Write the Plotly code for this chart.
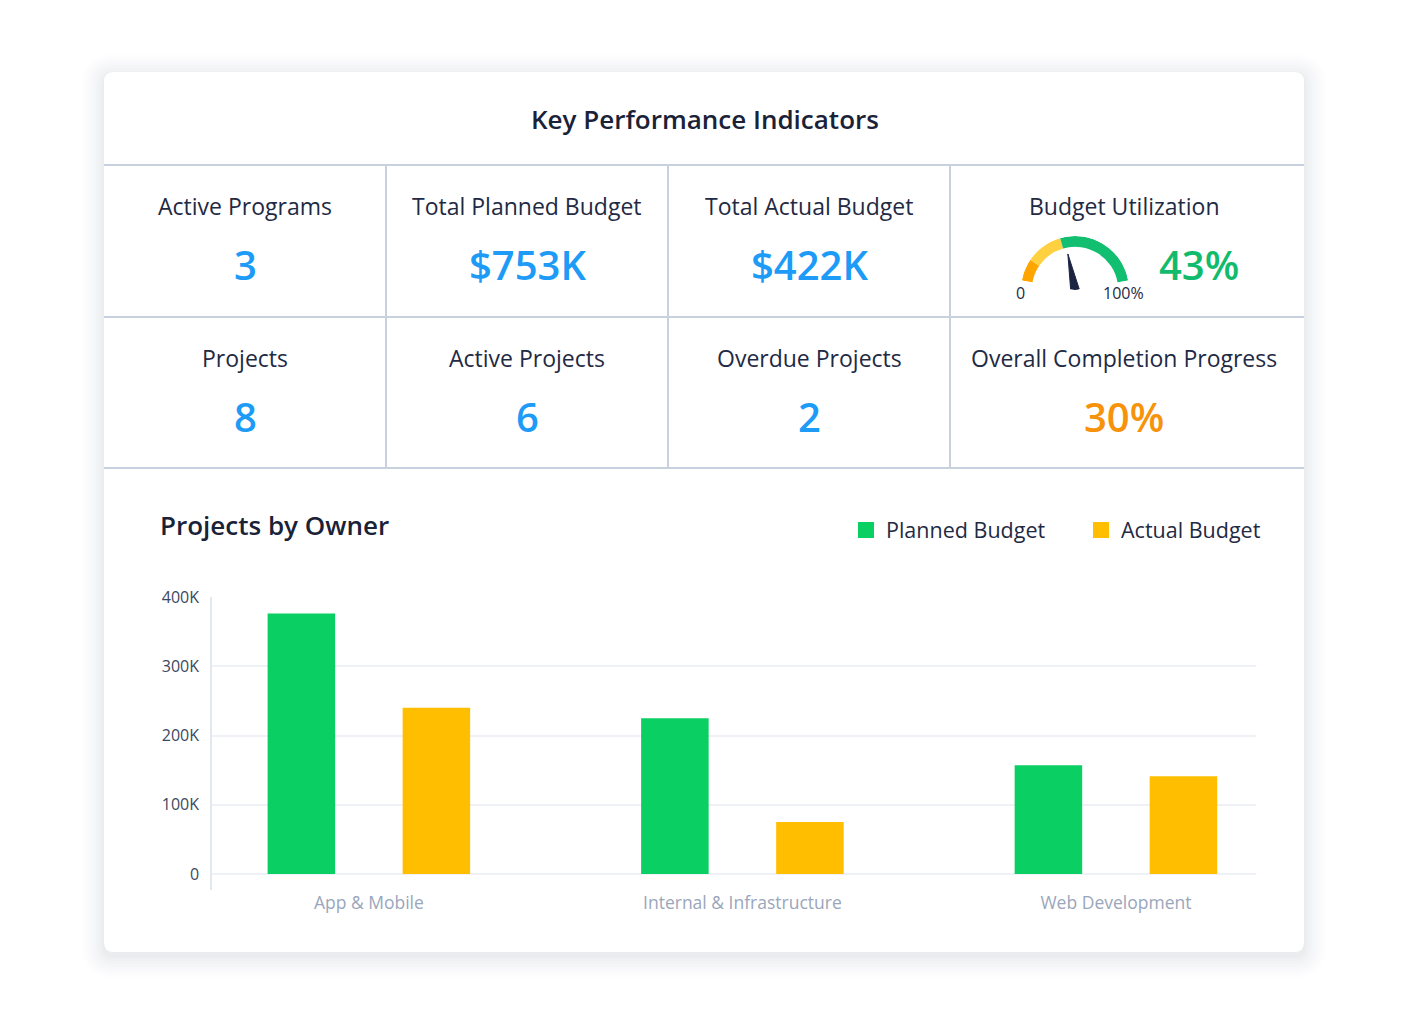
import plotly.graph_objects as go

# --- data ---
owners = ['App & Mobile', 'Internal & Infrastructure', 'Web Development']
planned_budget = [376000, 225000, 157000]
actual_budget = [240000, 75000, 141000]

y_ticks = [0, 100000, 200000, 300000, 400000]
y_tick_labels = ['0', '100K', '200K', '300K', '400K']

kpi_labels = ['Active Programs', 'Total Planned Budget', 'Total Actual Budget', 'Budget Utilization',
              'Projects', 'Active Projects', 'Overdue Projects', 'Overall Completion Progress']
kpi_values = ['3', '$753K', '$422K', '43%', '8', '6', '2', '30%']
kpi_colors = ['#1d9bf6', '#1d9bf6', '#1d9bf6', '#12bb6c', '#1d9bf6', '#1d9bf6', '#1d9bf6', '#f7920b']

# gauge bands (percent) and needle value
gauge_bands = [(0, 15, '#ffa500'), (15, 40, '#ffd040'), (40, 100, '#12bf70')]
utilization = 43

# page is 1408x1024, the body keeps an 8px margin around the figure
OFF = 8
W, H = 1408 - 2 * OFF, 1024 - 2 * OFF
FONT = 'Open Sans'
DARK = '#1f2a44'
LINE = '#c8d1de'
GREEN = '#0acf63'
YELLOW = '#ffbf00'


def fx(x):
    return (x - OFF) / W


def fy(y):
    return 1 - (y - OFF) / H


def rounded_rect(x0, y0, x1, y1, r):
    return (f'M {fx(x0 + r)} {fy(y0)} L {fx(x1 - r)} {fy(y0)} '
            f'Q {fx(x1)} {fy(y0)} {fx(x1)} {fy(y0 + r)} L {fx(x1)} {fy(y1 - r)} '
            f'Q {fx(x1)} {fy(y1)} {fx(x1 - r)} {fy(y1)} L {fx(x0 + r)} {fy(y1)} '
            f'Q {fx(x0)} {fy(y1)} {fx(x0)} {fy(y1 - r)} L {fx(x0)} {fy(y0 + r)} '
            f'Q {fx(x0)} {fy(y0)} {fx(x0 + r)} {fy(y0)} Z')


fig = go.Figure()

# bar chart
fig.add_trace(go.Bar(x=owners, y=planned_budget, name='Planned Budget', marker_color=GREEN,
                     marker_line_width=0, legendgroup='p', showlegend=False))
fig.add_trace(go.Bar(x=owners, y=actual_budget, name='Actual Budget', marker_color=YELLOW,
                     marker_line_width=0, legendgroup='a', showlegend=False))
# legend entries with larger square swatches
fig.add_trace(go.Scatter(x=[None], y=[None], mode='markers', name='Planned Budget', legendgroup='p',
                         marker=dict(symbol='square', size=19, color=GREEN)))
fig.add_trace(go.Scatter(x=[None], y=[None], mode='markers', name='Actual Budget', legendgroup='a',
                         marker=dict(symbol='square', size=19, color=YELLOW)))

# gauge on a polar subplot: angle measured from the left end, clockwise
G_START, G_SWEEP = 10, 160


def pct_to_theta(p):
    return G_START + p / 100 * G_SWEEP


for lo, hi, col in gauge_bands:
    fig.add_trace(go.Barpolar(r=[0.2], base=[0.8], theta=[pct_to_theta((lo + hi) / 2)],
                              width=[(hi - lo) / 100 * G_SWEEP], marker_color=col,
                              marker_line_width=0, showlegend=False, subplot='polar'))

needle = pct_to_theta(utilization)
fig.add_trace(go.Scatterpolar(r=[0.08, 0.68, 0.08, 0.08], theta=[needle - 90, needle, needle + 90, needle - 90],
                              mode='lines', fill='toself', fillcolor='#1b2440', line=dict(color='#1b2440', width=1),
                              cliponaxis=False, showlegend=False, subplot='polar'))
fig.add_trace(go.Scatterpolar(r=[0], theta=[0], mode='markers', marker=dict(size=9, color='#1b2440'),
                              cliponaxis=False, showlegend=False, subplot='polar'))

shapes = []
# card shadow
for i, op in enumerate([0.018, 0.016, 0.014, 0.012, 0.01, 0.008, 0.006, 0.004]):
    d = 2 + i * 3
    shapes.append(dict(type='path', xref='paper', yref='paper', layer='below',
                       path=rounded_rect(104 - d, 72 - d + 4, 1304 + d, 952 + d + 4, 10 + d),
                       fillcolor=f'rgba(40,50,80,{op})', line_width=0))
shapes.append(dict(type='path', xref='paper', yref='paper', layer='below',
                   path=rounded_rect(104, 72, 1304, 952, 10), fillcolor='white', line_width=0))

# KPI grid lines
for yy in [165, 317, 468]:
    shapes.append(dict(type='line', xref='paper', yref='paper', x0=fx(104), x1=fx(1304), y0=fy(yy), y1=fy(yy),
                       line=dict(color=LINE, width=2)))
for xx in [386, 668, 950]:
    shapes.append(dict(type='line', xref='paper', yref='paper', x0=fx(xx), x1=fx(xx), y0=fy(165), y1=fy(468),
                       line=dict(color=LINE, width=2)))


def note(text, x, y, size, color, weight=400, xanchor='center'):
    return dict(text=text, x=fx(x), y=fy(y), xref='paper', yref='paper', xanchor=xanchor, yanchor='middle',
                showarrow=False, font=dict(family=FONT, size=size, color=color, weight=weight))


annotations = [note('Key Performance Indicators', 705, 119, 26, '#1a2238', 600),
               note('Projects by Owner', 158, 525, 26, '#1a2238', 600, 'left')]

col_edges = [104, 386, 668, 950, 1304]
row_tops = [165, 317]
for i, (lab, val, col) in enumerate(zip(kpi_labels, kpi_values, kpi_colors)):
    r, c = divmod(i, 4)
    cx = (col_edges[c] + col_edges[c + 1]) / 2
    if c == 3:
        cx -= 3
    annotations.append(note(lab, cx, row_tops[r] + 41, 23, DARK))
    vx = 1199 if lab == 'Budget Utilization' else cx
    annotations.append(note(val, vx, row_tops[r] + 99, 40, col, 600))

annotations += [note('0', 1020, 293, 16, DARK), note('100%', 1123, 293, 16, DARK)]

fig.update_layout(
    width=W, height=H, margin=dict(l=0, r=0, t=0, b=0, autoexpand=False),
    paper_bgcolor='white', plot_bgcolor='rgba(0,0,0,0)',
    font=dict(family=FONT),
    barmode='group', bargap=0.277, bargroupgap=0.5,
    xaxis=dict(domain=[fx(212), fx(1256)], range=[-0.42, 2.375], showline=False, showgrid=False,
               ticks='', tickfont=dict(size=17.5, color='#9aa6bb'), automargin=False),
    yaxis=dict(domain=[fy(890), fy(597)], range=[-23100, 400000], tickvals=y_ticks, ticktext=y_tick_labels,
               showline=True, linecolor='#e3e8ef', linewidth=1.5, gridcolor='#eef1f6', gridwidth=1.5,
               zeroline=True, zerolinecolor='#eef1f6', zerolinewidth=1.5, ticklabelstandoff=8,
               tickfont=dict(size=16, color='#3b4862'), automargin=False),
    legend=dict(orientation='h', x=fx(846), xanchor='left', y=fy(530), yanchor='middle',
                font=dict(size=21.5, color=DARK), bgcolor='rgba(0,0,0,0)', itemwidth=30,
                entrywidth=190, entrywidthmode='pixels'),
    polar=dict(domain=dict(x=[fx(1021), fx(1129)], y=[fy(290), fy(236)]),
               sector=[G_START, 180 - G_START], bgcolor='rgba(0,0,0,0)',
               radialaxis=dict(visible=False, range=[0, 1]),
               angularaxis=dict(visible=False, rotation=180, direction='clockwise')),
    shapes=shapes, annotations=annotations,
)

fig.write_html('out.html')
